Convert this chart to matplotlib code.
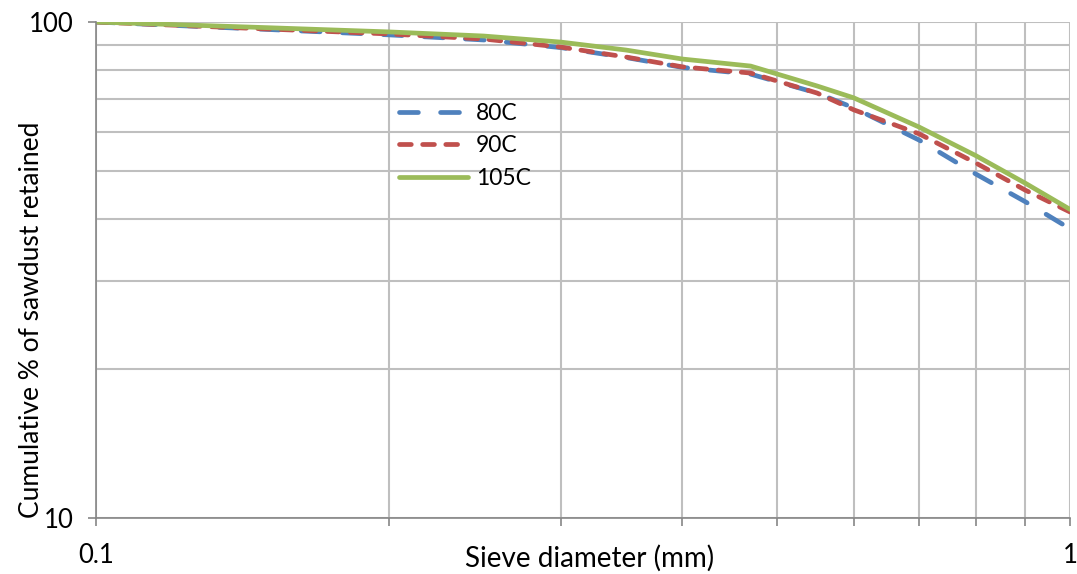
import matplotlib.pyplot as plt
from matplotlib.ticker import FixedLocator, NullFormatter, FixedFormatter

plt.rcParams['font.family'] = ['Lato', 'DejaVu Sans']

# sieve diameters (mm)
diameter = [0.1, 0.15, 0.2, 0.25, 0.3, 0.35, 0.4, 0.47, 0.55, 0.6, 0.7, 0.8, 0.9, 1.0]

# cumulative % retained for each drying temperature
retained_80 = [100, 96.6, 94.2, 92.0, 88.8, 84.8, 81.0, 78.5, 71.9, 67.1, 57.8, 49.4, 43.4, 38.3]
retained_90 = [100, 96.8, 94.6, 92.4, 89.0, 85.0, 81.2, 78.9, 71.9, 66.5, 59.5, 52.0, 45.8, 41.4]
retained_105 = [100, 97.4, 95.5, 93.7, 91.1, 87.8, 84.2, 81.5, 74.3, 70.3, 61.4, 53.8, 47.3, 41.9]

labels = ["80C", "90C", "105C"]
colors = ["#4F81BD", "#C0504D", "#9BBB59"]

fig = plt.figure(figsize=(10.77, 5.74), dpi=100)
ax = fig.add_axes([96 / 1077, 1 - 518 / 574, 974 / 1077, 496 / 574])

lw = 3.4
l1, = ax.plot(diameter, retained_80, color=colors[0], lw=lw, label=labels[0],
              dash_capstyle="round")
l1.set_dashes([4.0, 4.7])
l2, = ax.plot(diameter, retained_90, color=colors[1], lw=lw, label=labels[1],
              dash_capstyle="round")
l2.set_dashes([2.5, 2.4])
ax.plot(diameter, retained_105, color=colors[2], lw=lw, label=labels[2],
        solid_capstyle="round")

ax.set_xscale("log")
ax.set_yscale("log")
ax.set_xlim(0.1, 1)
ax.set_ylim(10, 100)

ax.xaxis.set_major_locator(FixedLocator([0.1, 1]))
ax.xaxis.set_major_formatter(FixedFormatter(["0.1", "1"]))
ax.xaxis.set_minor_locator(FixedLocator([0.2, 0.3, 0.4, 0.5, 0.6, 0.7, 0.8, 0.9]))
ax.xaxis.set_minor_formatter(NullFormatter())
ax.yaxis.set_major_locator(FixedLocator([10, 100]))
ax.yaxis.set_major_formatter(FixedFormatter(["10", "100"]))
ax.yaxis.set_minor_locator(FixedLocator([20, 30, 40, 50, 60, 70, 80, 90]))
ax.yaxis.set_minor_formatter(NullFormatter())

ax.grid(True, which="both", color="#BFBFBF", lw=1.5)
ax.set_axisbelow(True)
for side in ["top", "right"]:
    ax.spines[side].set_visible(False)
for side in ["left", "bottom"]:
    ax.spines[side].set_color("#868686")
    ax.spines[side].set_linewidth(1.2)

ax.tick_params(axis="both", which="major", length=6, width=1.2, color="#868686",
               labelsize=18.5)
ax.tick_params(axis="x", which="major", pad=12)
ax.tick_params(axis="y", which="major", pad=10)
ax.tick_params(axis="x", which="minor", length=6, width=1.2, color="#868686")
ax.tick_params(axis="y", which="minor", length=0)

ax.set_xlabel("Sieve diameter (mm)", fontsize=20)
ax.xaxis.set_label_coords(494 / 974, -40 / 496)
ax.xaxis.label.set_va("center")
ax.set_ylabel("Cumulative % of sawdust retained", fontsize=19)
ax.yaxis.set_label_coords(-64 / 974, 0.4)
ax.yaxis.label.set_va("center")

ax.legend(loc="upper left", bbox_to_anchor=(399 / 1077, 1 - 103 / 574),
          bbox_transform=fig.transFigure, frameon=False, fontsize=16.5,
          borderpad=0, borderaxespad=0,
          handlelength=3.0, labelspacing=0.5, handletextpad=0.35)

fig.savefig("out.png", dpi=100)
